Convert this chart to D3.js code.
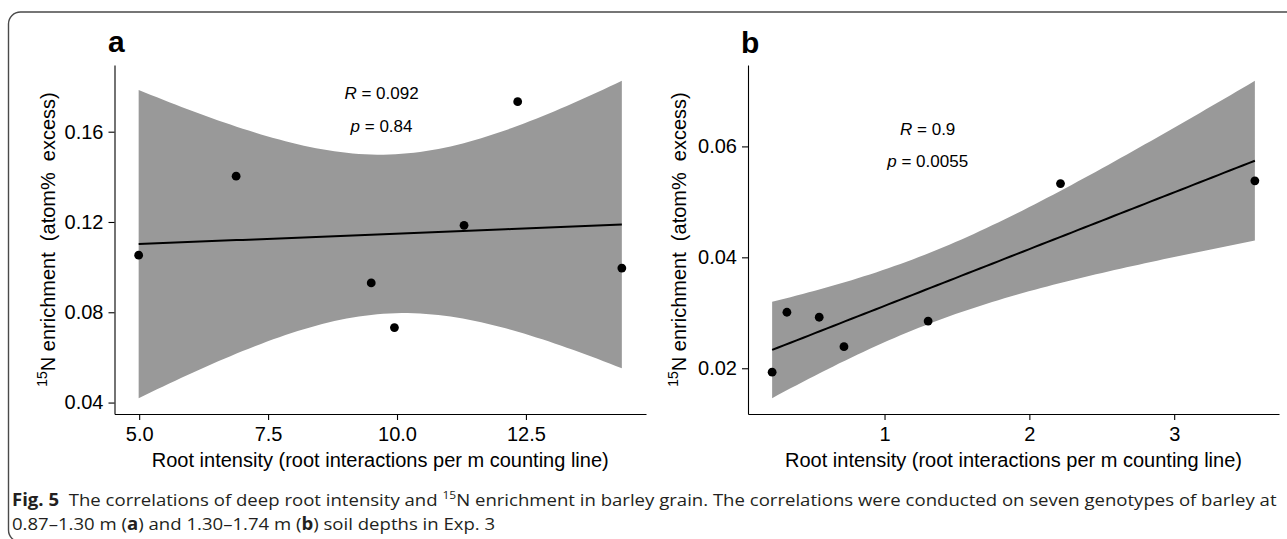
<!DOCTYPE html>
<meta charset="utf-8">
<script src="https://d3js.org/d3.v7.min.js"></script>
<style>
  body { margin: 0; background: #fff; }
  svg { display: block; }
  text { font-family: "Liberation Sans", Arial, sans-serif; fill: #000; }
</style>
<div id="chart"></div>
<script>
// Panel a: 0.87-1.30 m
var rootA = [4.99, 6.88, 9.50, 9.95, 11.30, 12.34, 14.36];
var enrichA = [0.1053, 0.1403, 0.0930, 0.0732, 0.1185, 0.1733, 0.0996];
var xTicksA = [5, 7.5, 10, 12.5];
var yTicksA = [0.04, 0.08, 0.12, 0.16];
var statsA = ["0.092", "0.84"];

// Panel b: 1.30-1.74 m
var rootB = [0.224, 0.326, 0.549, 0.720, 1.301, 2.215, 3.557];
var enrichB = [0.0193, 0.0301, 0.0292, 0.0239, 0.0285, 0.0533, 0.0538];
var xTicksB = [1, 2, 3];
var yTicksB = [0.02, 0.04, 0.06];
var statsB = ["0.9", "0.0055"];

var width = 1287, height = 539;
var plotTop = 65, plotBottom = 414;

var svg = d3.select("#chart").append("svg")
    .attr("width", width)
    .attr("height", height);

// rounded figure frame (right side runs off the page)
svg.append("rect")
    .attr("x", 8.5).attr("y", 12)
    .attr("width", 1330).attr("height", 530)
    .attr("rx", 12)
    .attr("fill", "none")
    .attr("stroke", "#4a4a4a")
    .attr("stroke-width", 1.4);

// straight line fit + 95% band, same as geom_smooth(method = "lm")
function lmFit(xs, ys) {
  var n = xs.length, mx = d3.mean(xs), my = d3.mean(ys);
  var sxx = d3.sum(xs, function(x) { return (x - mx) * (x - mx); });
  var sxy = d3.sum(xs, function(x, i) { return (x - mx) * (ys[i] - my); });
  var b = sxy / sxx, a = my - b * mx;
  var sse = d3.sum(xs, function(x, i) { var r = ys[i] - (a + b * x); return r * r; });
  var s = Math.sqrt(sse / (n - 2));
  var t = 2.570582; // qt(0.975, df = 5), seven genotypes
  var ext = d3.extent(xs);
  return d3.range(80).map(function(i) {
    var x = ext[0] + (ext[1] - ext[0]) * i / 79;
    var fit = a + b * x;
    var se = s * Math.sqrt(1 / n + (x - mx) * (x - mx) / sxx);
    return {x: x, y: fit, lo: fit - t * se, hi: fit + t * se};
  });
}

function expand(ext) {
  var d = (ext[1] - ext[0]) * 0.05;
  return [ext[0] - d, ext[1] + d];
}

var panels = [
  {tag: "a", xs: rootA, ys: enrichA, xTicks: xTicksA, yTicks: yTicksA, stats: statsA,
   left: 114.5, right: 646, xFmt: d3.format(".1f"),
   tagX: 108, tagY: 52, statX: 9.7, statY: [0.1744, 0.1600], yTitleX: 55},
  {tag: "b", xs: rootB, ys: enrichB, xTicks: xTicksB, yTicks: yTicksB, stats: statsB,
   left: 748, right: 1279, xFmt: d3.format("d"),
   tagX: 741, tagY: 53, statX: 1.298, statY: [0.0621, 0.0562], yTitleX: 686}
];

panels.forEach(function(p) {
  var band = lmFit(p.xs, p.ys);

  var x = d3.scaleLinear()
      .domain(expand(d3.extent(p.xs)))
      .range([p.left, p.right]);

  var yExt = d3.extent(p.ys.concat(band.map(function(d) { return d.lo; }), band.map(function(d) { return d.hi; })));
  var y = d3.scaleLinear()
      .domain(expand(yExt))
      .range([plotBottom, plotTop]);

  var g = svg.append("g");

  // confidence band
  g.append("path")
      .datum(band)
      .attr("fill", "#999999")
      .attr("d", d3.area()
        .x(function(d) { return x(d.x); })
        .y0(function(d) { return y(d.lo); })
        .y1(function(d) { return y(d.hi); }));

  // fitted line
  g.append("path")
      .datum(band)
      .attr("fill", "none")
      .attr("stroke", "#000")
      .attr("stroke-width", 2)
      .attr("d", d3.line()
        .x(function(d) { return x(d.x); })
        .y(function(d) { return y(d.y); }));

  // points
  g.selectAll("circle")
      .data(p.xs)
      .enter()
      .append("circle")
        .attr("cx", function(d) { return x(d); })
        .attr("cy", function(d, i) { return y(p.ys[i]); })
        .attr("r", 4.4)
        .attr("fill", "#000");

  // axes
  var xAxis = g.append("g")
      .attr("transform", "translate(0," + plotBottom + ")")
      .call(d3.axisBottom(x).tickValues(p.xTicks).tickFormat(p.xFmt)
        .tickSize(6).tickSizeOuter(0).tickPadding(6.5));
  var yAxis = g.append("g")
      .attr("transform", "translate(" + p.left + ",0)")
      .call(d3.axisLeft(y).tickValues(p.yTicks).tickFormat(d3.format(".2f"))
        .tickSize(6).tickSizeOuter(0).tickPadding(5));
  [xAxis, yAxis].forEach(function(ax) {
    ax.select(".domain").attr("stroke", "#000").attr("stroke-width", 1.1);
    ax.selectAll(".tick line").attr("stroke", "#000").attr("stroke-width", 1.1);
    ax.selectAll("text")
        .attr("fill", "#000")
        .style("font-family", "'Liberation Sans', Arial, sans-serif")
        .style("font-size", "20px");
  });

  // axis titles
  g.append("text")
      .attr("x", (p.left + p.right) / 2)
      .attr("y", 467)
      .attr("text-anchor", "middle")
      .style("font-size", "20px")
      .text("Root intensity (root interactions per m counting line)");

  var yt = g.append("text")
      .attr("transform", "translate(" + p.yTitleX + "," + (plotTop + plotBottom) / 2 + ") rotate(-90)")
      .attr("text-anchor", "middle")
      .style("font-size", "20px")
      .style("white-space", "pre");
  yt.append("tspan").style("font-size", "14px").attr("dy", -8).text("15");
  yt.append("tspan").attr("dy", 8).text("N enrichment  (atom%  excess)");

  // R and p labels
  ["R", "p"].forEach(function(sym, i) {
    var t = g.append("text")
        .attr("x", x(p.statX))
        .attr("y", y(p.statY[i]))
        .attr("text-anchor", "middle")
        .style("font-size", "17px");
    t.append("tspan").style("font-style", "italic").text(sym);
    t.append("tspan").text(" = " + p.stats[i]);
  });

  // panel tag
  g.append("text")
      .attr("x", p.tagX)
      .attr("y", p.tagY)
      .style("font-size", "30px")
      .style("font-weight", "bold")
      .text(p.tag);
});

// caption, squeezed horizontally to the condensed width of the journal font
var capX = 12;
function captionLine(parts) {
  var g = svg.append("g");
  var t = g.append("text")
      .style("font-family", "'Open Sans', 'Noto Sans', sans-serif")
      .style("font-size", "17px")
      .style("fill", "#231f20")
      .style("white-space", "pre");
  parts.forEach(function(d) {
    var s = t.append("tspan").text(d.text);
    if (d.bold) s.style("font-weight", "bold");
    if (d.sup) s.style("font-size", "11px").attr("dy", -7);
    if (d.down) s.attr("dy", 7);
  });
  return {g: g, len: t.node().getComputedTextLength()};
}

var line1 = captionLine([
  {text: "Fig. 5", bold: true},
  {text: "  The correlations of deep root intensity and "},
  {text: "15", sup: true},
  {text: "N enrichment in barley grain. The correlations were conducted on seven genotypes of barley at", down: true}
]);
var line2 = captionLine([
  {text: "0.87\u20131.30 m ("},
  {text: "a", bold: true},
  {text: ") and 1.30\u20131.74 m ("},
  {text: "b", bold: true},
  {text: ") soil depths in Exp. 3"}
]);
// same squeeze on both lines, set by the first line's span
var squeeze = (1277 - capX) / line1.len;
line1.g.attr("transform", "translate(" + capX + ",506) scale(" + squeeze + ",1)");
line2.g.attr("transform", "translate(" + capX + ",530) scale(" + squeeze + ",1)");
</script>
